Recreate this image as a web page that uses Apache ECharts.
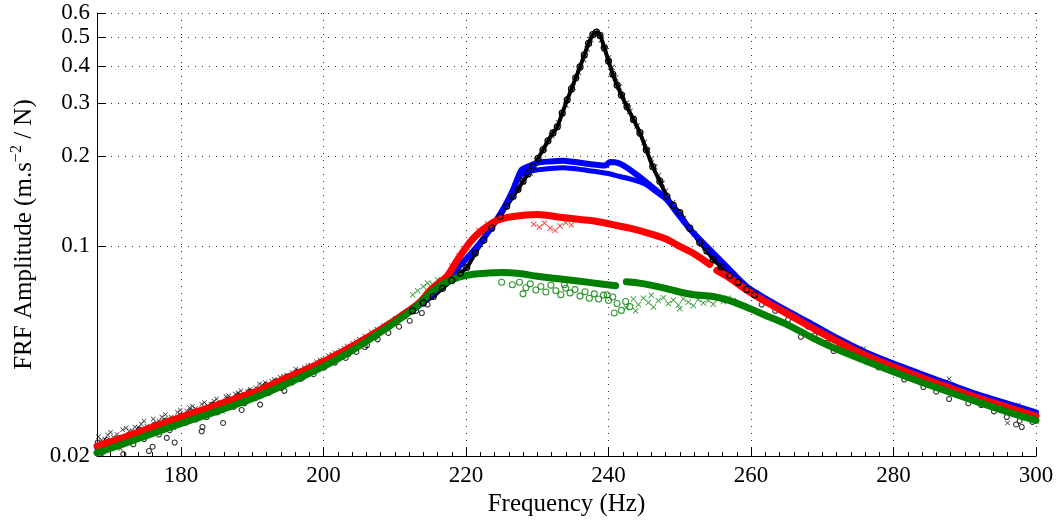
<!DOCTYPE html>
<html><head><meta charset="utf-8">
<script src="https://cdn.jsdelivr.net/npm/echarts@6/dist/echarts.min.js"></script>
<style>html,body{margin:0;padding:0;background:#fff}#c{width:1059px;height:522px}</style>
</head><body><div id="c"></div>
<script>
// ---- axis ticks ----
const xTicks = [180, 200, 220, 240, 260, 280, 300];
const yTicks = [0.02, 0.1, 0.2, 0.3, 0.4, 0.5, 0.6];

// ---- black (o / x) scattered markers, low-frequency tail ----
const blackLowX = [[168.4,0.0232],[169.3,0.0228],[170.1,0.0240],[171.0,0.0236],[171.8,0.0245],[172.7,0.0242],[173.5,0.0250],[174.4,0.0256],[175.2,0.0252],[176.1,0.0266],[176.9,0.0262],[177.8,0.0275],[178.6,0.0270],[179.5,0.0280],[180.3,0.0276],[181.2,0.0290],[182.0,0.0288],[182.9,0.0298],[183.7,0.0294],[184.6,0.0305],[185.4,0.0300],[186.3,0.0316],[187.1,0.0312],[188.0,0.0325],[188.8,0.0320],[189.7,0.0334],[190.5,0.0338],[191.4,0.0345],[192.2,0.0343],[193.1,0.0360],[193.9,0.0366],[194.8,0.0372],[195.6,0.0380],[196.5,0.0384],[197.3,0.0395],[198.2,0.0402],[199.0,0.0413],[199.9,0.0420],[200.7,0.0432],[201.6,0.0443],[202.4,0.0450],[203.3,0.0466],[204.1,0.0476],[205.0,0.0490],[205.8,0.0502],[206.7,0.0518],[207.5,0.0530],[208.4,0.0545],[209.2,0.0556],[210.1,0.0575],[210.9,0.0590],[211.8,0.0608],[171.5,0.0212],[175.6,0.0238],[179.0,0.0248],[185.8,0.0282],
  [168.8,0.0226],[169.7,0.0235],[170.5,0.0231],[172.3,0.0248],[173.1,0.0243],[174.0,0.0249],[174.8,0.0262],[176.5,0.0259],[177.3,0.0270],[178.2,0.0266],[179.9,0.0285],[180.8,0.0283],[181.6,0.0293],[182.5,0.0285],[183.3,0.0302],[184.2,0.0298],[185.0,0.0310],[186.7,0.0318],[187.6,0.0322],[188.4,0.0330],[189.3,0.0328],[191.0,0.0348],[191.8,0.0352],[192.7,0.0355],[194.4,0.0370],[196.1,0.0390],[197.8,0.0400],[199.5,0.0418],[201.2,0.0436],[202.9,0.0458],[204.6,0.0482]];
const blackLowO = [[168.3,0.0222],[168.9,0.0205],[169.6,0.0226],[170.4,0.0214],[171.2,0.0229],[171.9,0.0203],[172.6,0.0235],[173.3,0.0219],[174.1,0.0245],[174.8,0.0228],[175.5,0.0208],[176.2,0.0254],[176.9,0.0236],[177.7,0.0262],[178.4,0.0244],[179.1,0.0222],[179.9,0.0272],[180.6,0.0258],[181.4,0.0282],[182.1,0.0265],[182.9,0.0242],[183.6,0.0270],[184.4,0.0297],[185.1,0.0280],[185.9,0.0258],[186.6,0.0308],[187.4,0.0292],[188.1,0.0318],[188.9,0.0300],[189.6,0.0328],[190.4,0.0312],[191.1,0.0297],[191.9,0.0345],[192.6,0.0330],[193.4,0.0355],[194.1,0.0338],[194.9,0.0368],[195.6,0.0352],[196.4,0.0382],[197.1,0.0366],[197.9,0.0393],[198.6,0.0375],[199.4,0.0410],[200.1,0.0395],[200.9,0.0425],[201.6,0.0410],[202.4,0.0440],[203.1,0.0425],[203.9,0.0462],[204.6,0.0445],[205.4,0.0485],[206.1,0.0468],[206.9,0.0508],[207.6,0.0490],[208.4,0.0530],[209.1,0.0515],[209.9,0.0560],[210.6,0.0540],[211.4,0.0585],[212.1,0.0565],[213.0,0.0610],[213.8,0.0600],[214.6,0.0640],
  [168.6,0.0214],[169.9,0.0218],[171.6,0.0222],[173.0,0.0228],[174.5,0.0236],[176.5,0.0244],[177.3,0.0252],[178.8,0.0262],[180.2,0.0262],[181.8,0.0272],[183.2,0.0282],[184.8,0.0290],[186.2,0.0298],[187.8,0.0304],[189.2,0.0310],[190.8,0.0330],[192.3,0.0325],[193.8,0.0345],[195.2,0.0360],[196.8,0.0362],[198.3,0.0388],[199.8,0.0405],[201.3,0.0418],[203.5,0.0438],[205.8,0.0462],[207.3,0.0500],[176.0,0.0215],[178.0,0.0230],[183.0,0.0250],[188.5,0.0285],[194.5,0.0330]];

// ---- black scattered markers, high-frequency tail ----
const blackHighO = [[260.5,0.0688],[261.5,0.0640],[262.5,0.0650],[263.4,0.0610],[264.3,0.0612],[265.2,0.0570],[266.1,0.0585],[267.0,0.0500],[268.0,0.0540],[268.9,0.0505],[269.8,0.0518],[270.7,0.0478],[271.6,0.0448],[272.5,0.0470],[273.4,0.0455],[274.3,0.0440],[275.2,0.0448],[276.1,0.0420],[277.0,0.0430],[277.9,0.0395],[278.8,0.0405],[279.7,0.0392],[280.6,0.0385],[281.5,0.0360],[282.4,0.0372],[283.3,0.0365],[284.2,0.0340],[285.1,0.0356],[286.0,0.0328],[286.9,0.0343],[287.8,0.0310],[288.7,0.0330],[289.6,0.0318],[290.5,0.0300],[291.4,0.0313],[292.3,0.0296],[293.2,0.0304],[294.1,0.0282],[295.0,0.0296],[295.9,0.0270],[296.8,0.0285],[297.7,0.0262],[298.6,0.0276],[299.5,0.0260],[297.2,0.0255],[298.0,0.0250]];
const blackHighX = [[260.8,0.0705],[261.8,0.0672],[262.8,0.0658],[263.8,0.0632],[264.8,0.0610],[265.8,0.0592],[266.8,0.0570],[267.8,0.0553],[268.8,0.0540],[269.8,0.0520],[270.8,0.0502],[271.8,0.0488],[272.8,0.0474],[273.8,0.0460],[274.8,0.0448],[275.8,0.0456],[276.8,0.0430],[277.8,0.0422],[278.8,0.0418],[279.8,0.0402],[280.8,0.0395],[281.8,0.0388],[282.8,0.0383],[283.8,0.0370],[284.8,0.0362],[285.8,0.0356],[286.8,0.0345],[287.8,0.0362],[288.8,0.0338],[289.8,0.0330],[290.8,0.0322],[291.8,0.0318],[292.8,0.0312],[293.8,0.0305],[294.8,0.0298],[295.8,0.0300],[296.8,0.0293],[297.8,0.0284],[298.8,0.0280],[299.6,0.0275],[296.0,0.0258],[297.5,0.0296]];

// ---- black resonance band ----
const blackPeakO = [[212.5,0.0610],[214,0.0648],[215.4,0.0681],[216.7,0.0725],[218,0.0770],[219.2,0.0815],[220.1,0.0850],[221.3,0.0950],[222.5,0.1050],[223.6,0.1150],[224.8,0.1258],[225.7,0.1360],[226.6,0.1466],[227.3,0.1550],[228.0,0.1650],[228.7,0.1745],[229.4,0.1844],[230.1,0.1965],[230.8,0.2100],[231.5,0.2250],[232.2,0.2390],[232.8,0.2505],[233.5,0.2780],[234.2,0.3081],[234.8,0.3350],[235.4,0.3650],[236.0,0.3966],[236.6,0.4350],[237.2,0.4750],[237.8,0.5080],[238.3,0.5180],[238.8,0.5050],[239.4,0.4600],[240.0,0.4150],[240.6,0.3750],[241.2,0.3450],[241.8,0.3200],[242.6,0.2920],[243.5,0.2650],[244.4,0.2394],[245.3,0.2100],[246.2,0.1844],[247.2,0.1650],[248.2,0.1466],[249.1,0.1370],[250.0,0.1297],[251.4,0.1150],[252.8,0.1030],[253.8,0.0965],[254.7,0.0905],[255.8,0.0855],[257.0,0.0800],[258.2,0.0760],[259.4,0.0719],[260.5,0.0690]];
const blackPeakX = [[229,0.176],[230,0.193],[231,0.212],[232,0.234],[233,0.258],[234,0.296],[235,0.340],[235.8,0.380],[236.5,0.420],[237.0,0.455],[237.5,0.490],[238.2,0.515],[239,0.488],[239.5,0.455],[240,0.425],[240.5,0.395],[241,0.365],[241.5,0.340],[242,0.318],[242.5,0.300],[243,0.282],[243.5,0.267],[244,0.252],[244.5,0.237],[245,0.222],[245.5,0.209],[246,0.196],[246.5,0.184],[247,0.172],[247.5,0.162],[248,0.153],[249,0.140],[250.5,0.124],[252,0.110],[253.5,0.099],[255,0.089],[257,0.080],[259,0.073]];

// ---- blue ----
const blueUpper = [[168.2,0.0214],[172,0.0229],[176,0.0248],[180,0.0268],[185,0.0294],[190,0.0322],[195,0.0362],[200,0.0410],[204,0.0460],[208,0.0523],[211,0.0580],[213.5,0.0638],[215.4,0.0700],[217.3,0.0776],[219.6,0.0885],[222,0.1030],[224.3,0.1229],[225.5,0.1370],[226.6,0.1546],[227.3,0.1700],[227.8,0.1800],[228.8,0.1850],[230,0.1900],[231.8,0.1920],[233.6,0.1930],[235,0.1915],[236.5,0.1895],[238.4,0.1870],[239.5,0.1860],[240.2,0.1910],[241.4,0.1895],[242.6,0.1830],[244,0.1730],[245.4,0.1630],[246.8,0.1530],[248.2,0.1430],[250,0.1260],[251.9,0.1110],[254.2,0.0976],[256.5,0.0860],[259.4,0.0735],[262,0.0672],[265,0.0612],[268,0.0560],[272,0.0496],[276,0.0445],[280,0.0407],[284,0.0375],[288,0.0346],[292,0.0320],[296,0.0299],[300,0.0280]];
const blueLower = [[226.8,0.1600],[227.6,0.1720],[228.5,0.1770],[230,0.1800],[231.8,0.1820],[233.6,0.1830],[235,0.1820],[236.5,0.1800],[238.4,0.1775],[240,0.1750],[241.6,0.1710],[243,0.1680],[244.4,0.1640],[245.4,0.1600],[246.5,0.1530],[247.5,0.1470]];

// ---- red ----
const redLow = [[168.2,0.0216],[172,0.0231],[176,0.0250],[180,0.0270],[185,0.0296],[190,0.0325],[195,0.0366],[200,0.0414],[204,0.0465],[208,0.0529],[211,0.0589],[213.5,0.0651],[215,0.0716],[217.3,0.0794],[218.5,0.0880],[219.6,0.0962],[220.8,0.1050],[222,0.1120],[224.3,0.1220],[226.6,0.1258],[230,0.1277],[233.6,0.1248],[236,0.1229],[238,0.1215],[240.6,0.1182],[243,0.1150],[245.4,0.1110],[248,0.1060],[250,0.1000],[252,0.0945],[254.2,0.0871]];
const redHigh = [[255.2,0.0832],[257,0.0785],[259.4,0.0715],[262,0.0655],[264,0.0617],[266,0.0580],[268,0.0545],[270,0.0513],[272,0.0484],[274,0.0458],[276,0.0435],[278,0.0415],[280,0.0397],[284,0.0365],[288,0.0337],[292,0.0312],[296,0.0291],[300,0.0272]];
const redX = [[229.5,0.1185],[230.3,0.1160],[231.0,0.1195],[231.8,0.1150],[232.5,0.1130],[233.2,0.1170],[234.0,0.1200],[234.8,0.1180],[221.0,0.1060],[221.8,0.1130],[220.2,0.0990],[219.0,0.0930],[218.0,0.0860],[223.0,0.1190]];

// ---- green ----
const greenLow = [[168.2,0.0205],[172,0.0220],[176,0.0238],[180,0.0257],[185,0.0282],[190,0.0311],[195,0.0350],[200,0.0398],[204,0.0450],[208,0.0518],[211,0.0580],[213.5,0.0645],[215,0.0700],[217,0.0755],[219,0.0790],[221,0.0808],[223,0.0815],[225,0.0818],[227.5,0.0812],[230,0.0795],[233,0.0780],[236,0.0765],[239,0.0750],[241,0.0740]];
const greenHigh = [[242.5,0.0762],[245,0.0750],[248,0.0725],[250,0.0705],[252,0.0690],[254.7,0.0681],[257,0.0660],[259.4,0.0627],[262,0.0590],[265,0.0550],[268.7,0.0495],[272,0.0455],[276,0.0416],[280,0.0382],[284,0.0352],[288,0.0326],[292,0.0302],[296,0.0281],[300,0.0263]];
const greenO = [[226.5,0.0745],[227.5,0.0760],[228.4,0.0728],[229.0,0.0750],[229.8,0.0716],[230.5,0.0735],[231.2,0.0705],[231.9,0.0742],[232.6,0.0712],[233.3,0.0690],[234.0,0.0725],[234.6,0.0700],[235.3,0.0718],[236.0,0.0683],[236.7,0.0706],[237.3,0.0672],[238.0,0.0695],[238.6,0.0668],[239.3,0.0688],[240.0,0.0660],[240.6,0.0678],[241.2,0.0645],[241.8,0.0612],[242.4,0.0655],[243.0,0.0630],[240.8,0.0600],[239.8,0.0690],[233.8,0.0745],[228.0,0.0695],[225.0,0.0760]];
const greenX = [[243.5,0.0668],[244.2,0.0640],[244.9,0.0672],[245.6,0.0650],[246.3,0.0628],[247.0,0.0660],[247.7,0.0675],[248.4,0.0645],[249.1,0.0662],[249.8,0.0638],[250.5,0.0668],[251.2,0.0652],[251.9,0.0635],[252.6,0.0665],[253.3,0.0648],[254.0,0.0660],[254.7,0.0642],[255.4,0.0668],[256.1,0.0655],[256.8,0.0672],[257.5,0.0660],[242.5,0.0625],[243.8,0.0610],[246.0,0.0688],[250.0,0.0620],[212.5,0.0690],[213.2,0.0712],[214.0,0.0735],[214.6,0.0755],[215.3,0.0748],[216.0,0.0775],[216.6,0.0762],[217.3,0.0785]];

// ---- styling helpers ----
const FONT = 'Liberation Serif';
const XSYM = 'path://M0,1L1,0L5,4L9,0L10,1L6,5L10,9L9,10L5,6L1,10L0,9L4,5Z';
function scatterO(data, color, size) {
  return {type:'scatter', data, symbol:'circle', symbolSize:size||5,
    itemStyle:{color:'transparent', borderColor:color, borderWidth:1.1}, silent:true};
}
function scatterX(data, color, size) {
  return {type:'scatter', data, symbol:XSYM, symbolSize:size||5,
    itemStyle:{color:color}, silent:true};
}
function band(data, color, width) {
  return {type:'line', data, showSymbol:false, smooth:0.3,
    lineStyle:{color, width, cap:'round', join:'round'}, silent:true};
}
function fmt(v){ return String(parseFloat(Number(v).toPrecision(3))); }
const gridLine = {show:true, lineStyle:{color:'#333', width:1, type:[1,6]}};

const chart = echarts.init(document.getElementById('c'), null, {renderer:'canvas'});
chart.setOption({
  animation:false,
  backgroundColor:'#fff',
  grid:{left:97, right:23, top:13, bottom:65, containLabel:false},
  xAxis:{
    type:'value', min:168.2, max:300, splitNumber:7,
    name:'Frequency (Hz)', nameLocation:'middle', nameGap:30,
    nameTextStyle:{fontFamily:FONT, fontSize:25, color:'#000'},
    axisLine:{show:true, lineStyle:{color:'#000', width:1}},
    axisTick:{show:true, inside:true, length:9, customValues:xTicks, lineStyle:{color:'#000'}},
    minorTick:{show:true, splitNumber:10, length:4, lineStyle:{color:'#000'}},
    axisLabel:{customValues:xTicks, fontFamily:FONT, fontSize:23, color:'#000', margin:8},
    splitLine:gridLine
  },
  yAxis:{
    type:'log', logBase:10, min:0.02, max:0.6,
    name:'{n|FRF Amplitude (m.s}{s|−2}{n| / N)}', nameLocation:'middle', nameGap:58, nameRotate:90,
    nameTextStyle:{fontFamily:FONT, fontSize:25, color:'#000',
      rich:{n:{fontFamily:FONT, fontSize:25, color:'#000', lineHeight:30},
            s:{fontFamily:FONT, fontSize:16, color:'#000', verticalAlign:'top', lineHeight:14}}},
    axisLine:{show:true, lineStyle:{color:'#000', width:1}},
    axisTick:{show:true, inside:true, length:9, customValues:yTicks, lineStyle:{color:'#000'}},
    minorTick:{show:false},
    axisLabel:{customValues:yTicks, fontFamily:FONT, fontSize:23, color:'#000', margin:7, formatter:fmt},
    splitLine:gridLine
  },
  series:[
    scatterO(blackLowO, '#000'),
    scatterX(blackLowX, '#000'),
    scatterO(blackHighO, '#000'),
    scatterX(blackHighX, '#000'),
    Object.assign(band(blackPeakO, '#000', 4), {showSymbol:true, symbol:'circle', symbolSize:6,
      itemStyle:{color:'transparent', borderColor:'#000', borderWidth:1.2}}),
    scatterX(blackPeakX, '#000', 6),
    band(blueUpper, '#0000ff', 6),
    band(blueLower, '#0000ff', 5),
    band(redLow, '#ff0000', 7),
    band(redHigh, '#ff0000', 7),
    scatterX(redX, '#ff0000', 6),
    band(greenLow, '#008000', 7),
    band(greenHigh, '#008000', 7),
    scatterO(greenO, '#008000', 6),
    scatterX(greenX, '#008000', 6)
  ]
});
</script>
</body></html>
